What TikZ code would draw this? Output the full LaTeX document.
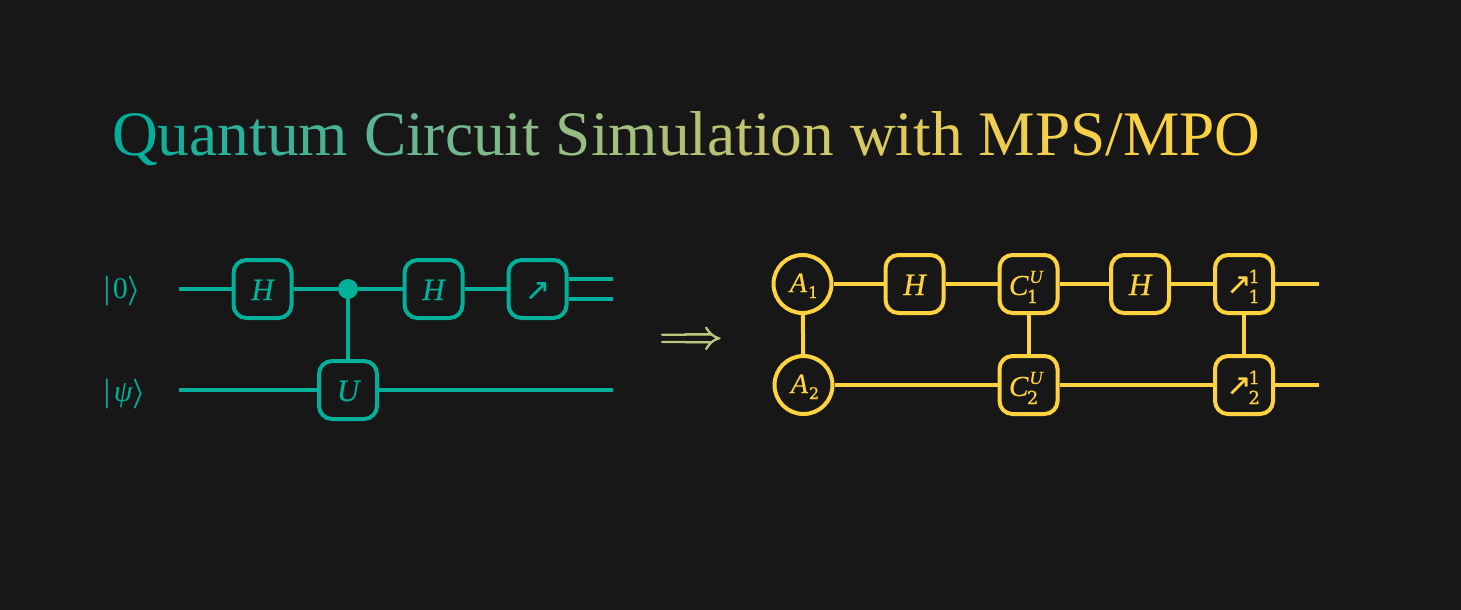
\documentclass[tikz,border=0pt]{standalone}
\usepackage{fontspec}
\usepackage{graphicx}
\setmainfont{Liberation Serif}
\newfontfamily\djv{DejaVu Sans}
\newfontfamily\djs{DejaVu Serif}
\usetikzlibrary{calc}
\definecolor{bgc}{HTML}{171717}
\definecolor{tealc}{HTML}{00B09B}
\definecolor{yelc}{HTML}{FFD23F}
\definecolor{arrc}{HTML}{BBC67E}
\font\bsy=cmbsy10 at 30pt
\newdimen\gpos
\newdimen\gwd
% title letters: colour blended in linear light by the letter's position
\newcommand{\gl}[1]{\setbox0=\hbox{#1}\gwd=\wd0\relax
  \pgfmathsetmacro{\gs}{min(1,(\the\gpos+0.2*\the\gwd)/1146)}%
  \pgfmathsetmacro{\gt}{\gs*\gs*(3-2*\gs)}%
  \pgfmathsetmacro{\gr}{sqrt(\gt)}%
  \pgfmathsetmacro{\gg}{sqrt((1-\gt)*0.476+\gt*0.679)}%
  \pgfmathsetmacro{\gb}{sqrt((1-\gt)*0.37+\gt*0.061)}%
  \definecolor{gc}{rgb}{\gr,\gg,\gb}\textcolor{gc}{\box0}\global\advance\gpos by \gwd\relax}
\def\gloop#1{\ifx#1\relax\else\gl{#1}\expandafter\gloop\fi}
% text drawn with a thin outline, for a heavier stroke
\newcommand{\heavy}[2]{\special{pdf:code 2 Tr #1 w}#2\special{pdf:code 0 Tr 1 w}}
% base text set at a fixed drop below the node centre
\newcommand{\dropped}[2]{\raisebox{-#1pt}[0pt][0pt]{\heavy{0.12}{#2}}}
\newcommand{\ssfont}{\djs\fontsize{18}{18}\selectfont}
\newcommand{\asfont}{\djs\fontsize{16}{16}\selectfont}
\newcommand{\supfont}{\fontsize{18.5}{18.5}\selectfont\itshape}
\newcommand{\mtr}{{\djv\fontsize{30}{30}\selectfont ↗}}
\newcommand{\cgate}[1]{\dropped{11}{{\fontsize{29}{29}\selectfont\itshape C}\rlap{\hspace{1pt}\raisebox{12pt}{\supfont U}}\hspace{-1.5pt}\raisebox{-8pt}{\ssfont #1}\hspace{9.7pt}}}
\newcommand{\mgate}[1]{\dropped{11}{\raisebox{1pt}{\mtr}\hspace{-3pt}\rlap{\raisebox{12pt}{\ssfont 1}}\raisebox{-8pt}{\ssfont #1}\hspace{1.7pt}}}
\newcommand{\agate}[1]{\dropped{8}{\hspace{3pt}{\itshape A}\hspace{1pt}\raisebox{-6pt}{\asfont #1}}}
\tikzset{
  x=1pt,y=-1pt,
  tbox/.style={draw=tealc,line width=4pt,rounded corners=13pt,minimum size=58pt,inner sep=0pt,text=tealc,font=\fontsize{31}{31}\selectfont\itshape},
  ybox/.style={draw=yelc,line width=4pt,rounded corners=13pt,minimum size=58pt,inner sep=0pt,text=yelc,font=\fontsize{31}{31}\selectfont},
  ycirc/.style={draw=yelc,line width=4pt,circle,minimum size=58pt,inner sep=0pt,text=yelc,font=\fontsize{28}{28}\selectfont},
  twire/.style={draw=tealc,line width=4pt},
  ywire/.style={draw=yelc,line width=4pt},
  ket/.style={text=tealc,font=\fontsize{30}{30}\selectfont,inner sep=0pt,anchor=base west},
}
\begin{document}
\begin{tikzpicture}
\useasboundingbox (0,0) rectangle (1461,610);
\fill[bgc] (0,0) rectangle (1461,610);
% title
\node[anchor=base west,inner sep=0pt,font=\fontsize{63.4}{63.4}\selectfont] (title) at (112,155) {\global\gpos=0pt\gloop Quantum~Circuit~Simulation~with~MPS/MPO\relax};
% left circuit
\node[ket] (k0) at (102,298.5) {{\bsy\char"6A}\hspace{1pt}0{\bsy\char"69}};
\node[ket] (k1) at (102,401) {{\bsy\char"6A}\hspace{2pt}{\itshape ψ}{\bsy\char"69}};
\coordinate (s0) at (179,289);
\coordinate (s1) at (179,390);
\coordinate (e0a) at (613,279);
\coordinate (e0b) at (613,299);
\coordinate (e1) at (613,390);
\node[tbox] (h1) at (262.5,289) {\dropped{11}{H}};
\node[circle,fill=tealc,minimum size=20pt,inner sep=0pt] (dot) at (348,289) {};
\node[tbox] (u) at (348,390) {\dropped{11}{U}};
\node[tbox] (h2) at (433.5,289) {\dropped{11}{H}};
\node[tbox,font=\upshape] (m) at (537.5,289) {\dropped{10.8}{\mtr}};
\draw[twire] (s0) -- (h1);
\draw[twire] (h1) -- (dot);
\draw[twire] (dot) -- (h2);
\draw[twire] (h2) -- (m);
\draw[twire] (dot) -- (u);
\draw[twire] (s1) -- (u);
\draw[twire] (u) -- (e1);
\draw[twire] (m.east |- e0a) -- (e0a);
\draw[twire] (m.east |- e0b) -- (e0b);
% implication arrow
\node[text=arrc,inner sep=0pt,font=\fontsize{24.88}{24.88}\selectfont] (imp) at (691,341) {\heavy{0.5}{\scalebox{1.63}{$\Longrightarrow$}}};
% right circuit
\node[ycirc] (a1) at (802.5,284) {\agate{1}};
\node[ycirc] (a2) at (803.5,385) {\agate{2}};
\node[ybox] (yh1) at (914.5,284) {\dropped{11}{\itshape H}};
\node[ybox] (c1) at (1028.5,284) {\cgate{1}};
\node[ybox] (c2) at (1028.5,385) {\cgate{2}};
\node[ybox] (yh2) at (1140,284) {\dropped{11}{\itshape H}};
\node[ybox] (m1) at (1244,284) {\mgate{1}};
\node[ybox] (m2) at (1244,385) {\mgate{2}};
\coordinate (ye1) at (1319,284);
\coordinate (ye2) at (1319,385);
\draw[ywire] (a1) -- (yh1);
\draw[ywire] (yh1) -- (c1);
\draw[ywire] (c1) -- (yh2);
\draw[ywire] (yh2) -- (m1);
\draw[ywire] (m1) -- (ye1);
\draw[ywire] (a2) -- (c2);
\draw[ywire] (c2) -- (m2);
\draw[ywire] (m2) -- (ye2);
\draw[ywire] (a1) -- (a2);
\draw[ywire] (c1) -- (c2);
\draw[ywire] (m1) -- (m2);
\end{tikzpicture}
\end{document}
